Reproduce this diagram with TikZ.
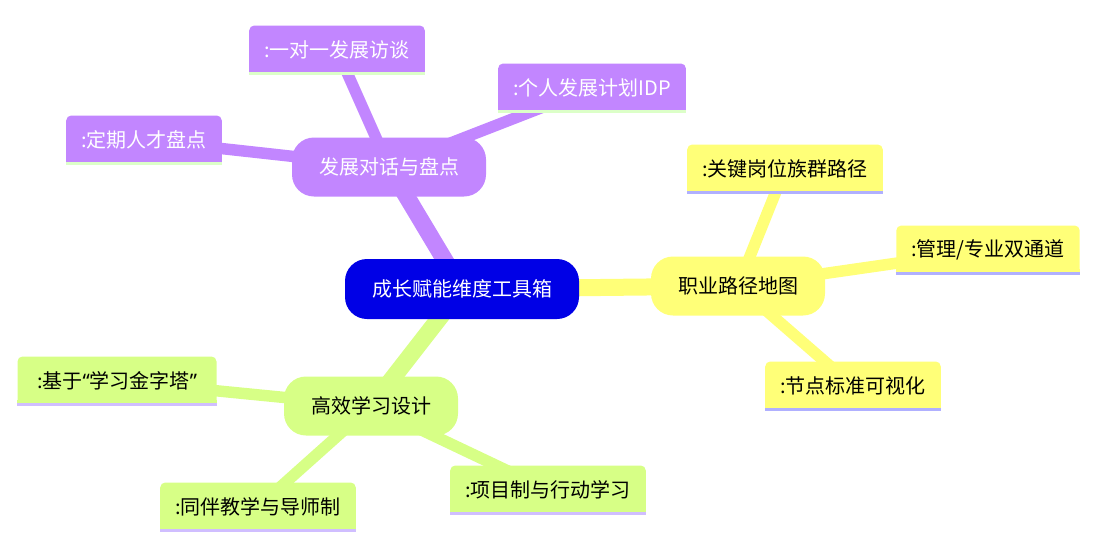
\documentclass[tikz,border=0pt]{standalone}
\usepackage{fontspec}
\setmainfont{Noto Sans CJK SC}
\newfontfamily\quotefont{Noto Sans}
\usetikzlibrary{backgrounds}

\definecolor{rootblue}{HTML}{0000E6}
\definecolor{purp}{HTML}{C286FF}
\definecolor{yell}{HTML}{FFFF78}
\definecolor{gren}{HTML}{D7FF86}
\definecolor{purpbar}{HTML}{DCFFC8}
\definecolor{yellbar}{HTML}{B0B0FF}
\definecolor{grenbar}{HTML}{D0BEFF}

\begin{document}
\begin{tikzpicture}[x=1pt,y=-1pt]

    \tikzset{
      root/.style={
        fill=rootblue,
        text=white,
        rounded corners=22pt,
        minimum height=60pt,
        inner xsep=27pt,
        font=\fontsize{20}{24}\selectfont,
      },
      branch/.style={
        fill=#1,
        rounded corners=22pt,
        minimum height=59pt,
        inner xsep=27pt,
        font=\fontsize{20}{24}\selectfont,
      },
      leaf/.style={
        fill=#1,
        rounded corners=5pt,
        minimum height=49pt,
        inner xsep=15pt,
        font=\fontsize{20}{24}\selectfont,
      },
      trunk/.style={line width=17pt},
      twig/.style={line width=11.5pt},
    }
    \useasboundingbox (0,0) rectangle (1113,549);

	% centre and main branches
	\node[root] (root) at (462,289) {成长赋能维度工具箱};
	\node[branch=purp,text=white] (talk) at (389,167) {发展对话与盘点};
	\node[branch=yell] (path) at (738,286) {职业路径地图};
	\node[branch=gren] (learn) at (371,406) {高效学习设计};

	% leaves
	\node[leaf=purp,text=white] (talk1) at (337,50) {:一对一发展访谈};
	\node[leaf=purp,text=white] (talk2) at (592,88) {:个人发展计划IDP};
	\node[leaf=purp,text=white] (talk3) at (144,140) {:定期人才盘点};
	\node[leaf=yell] (path1) at (785,169) {:关键岗位族群路径};
	\node[leaf=yell] (path2) at (988,250) {:管理/专业双通道};
	\node[leaf=yell] (path3) at (853,386) {:节点标准可视化};
	\node[leaf=gren,minimum width=199pt] (learn1) at (117,381) {:基于{\quotefont“}学习金字塔{\quotefont”}};
	\node[leaf=gren] (learn2) at (258,507) {:同伴教学与导师制};
	\node[leaf=gren] (learn3) at (548,490) {:项目制与行动学习};

	% square bottoms and coloured bars
	\foreach \n/\c/\b in {talk1/purp/purpbar,talk2/purp/purpbar,talk3/purp/purpbar,
	    path1/yell/yellbar,path2/yell/yellbar,path3/yell/yellbar,
	    learn1/gren/grenbar,learn2/gren/grenbar,learn3/gren/grenbar}{
	  \fill[\c] ([yshift=6pt]\n.south west) rectangle (\n.south east);
	  \fill[\b] (\n.south west) rectangle ([yshift=3pt]\n.south east);
	}

	\begin{scope}[on background layer]
	\draw[trunk,purp] (root.center) -- (talk.center);
	\draw[trunk,yell] (root.center) -- (path.center);
	\draw[trunk,gren] (root.center) -- (learn.center);
	\foreach \n in {talk1,talk2,talk3} \draw[twig,purp] (talk.center) -- (\n.center);
	\foreach \n in {path1,path2,path3} \draw[twig,yell] (path.center) -- (\n.center);
	\foreach \n in {learn1,learn2,learn3} \draw[twig,gren] (learn.center) -- (\n.center);
	\end{scope}

\end{tikzpicture}
\end{document}
